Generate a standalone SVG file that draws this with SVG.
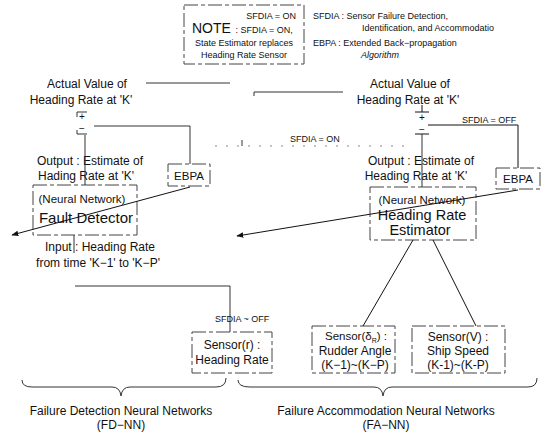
<svg xmlns="http://www.w3.org/2000/svg" width="546" height="438" viewBox="0 0 546 438">
<style>
text{font-family:"Liberation Sans",Arial,sans-serif;fill:#111}
.s9{font-size:9px}
.s12{font-size:12px}
.s11{font-size:11.5px}
.big{font-size:14.5px}
.box{fill:none;stroke:#444;stroke-width:1;stroke-dasharray:14 3 4 3}
.ln{fill:none;stroke:#333;stroke-width:1}
.fd{fill:none;stroke:#888;stroke-width:1;stroke-dasharray:2 9}
.sol{fill:none;stroke:#111;stroke-width:1}
</style>
<defs>
<marker id="ah" viewBox="0 0 10 10" refX="9" refY="5" markerWidth="7" markerHeight="7" orient="auto"><path d="M0,1 L10,5 L0,9 Z" fill="#111"/></marker>
</defs>
<rect width="546" height="438" fill="#fff"/>

<g id="note">
<rect class="box" x="184" y="5" width="120" height="59"/>
<text class="s9" x="296" y="19" text-anchor="end">SFDIA = ON</text>
<text x="192" y="33"><tspan style="font-size:14px">NOTE</tspan><tspan class="s9" dx="2"> : SFDIA = ON,</tspan></text>
<text class="s9" x="244" y="46" text-anchor="middle">State Estimator replaces</text>
<text class="s9" x="244" y="58" text-anchor="middle">Heading Rate Sensor</text>
</g>

<g id="legend">
<text class="s9" x="313" y="19">SFDIA : Sensor Failure Detection,</text>
<text class="s9" x="362" y="31">Identification, and Accommodatio</text>
<text class="s9" x="313" y="46">EBPA : Extended Back−propagation</text>
<text class="s9" x="361" y="58" font-style="italic">Algorithm</text>
</g>

<g id="actual-left">
<text class="s12" x="87" y="88" text-anchor="middle">Actual Value of</text>
<text class="s12" x="81" y="104" text-anchor="middle">Heading Rate at 'K'</text>
</g>
<g id="actual-right">
<text class="s12" x="410" y="88" text-anchor="middle">Actual Value of</text>
<text class="s12" x="408" y="104" text-anchor="middle">Heading Rate at 'K'</text>
</g>

<g id="sum-left">
<path class="ln" stroke="#666" d="M77,117 V112 H87 M77,130 V134 H87"/>
<text style="font-size:10px" x="82" y="120" text-anchor="middle">+</text>
<text style="font-size:10px" x="82" y="132" text-anchor="middle">−</text>
</g>
<g id="sum-right">
<path class="sol" d="M415,112 H429 M422,105 V112 M415,134 H429"/>
<text style="font-size:10px" x="422" y="121" text-anchor="middle">+</text>
<text style="font-size:10px" x="422" y="133" text-anchor="middle">−</text>
</g>

<g id="out-left">
<text class="s12" x="90" y="165" text-anchor="middle">Output : Estimate of</text>
<text class="s12" x="86" y="180" text-anchor="middle">Hading Rate at 'K'</text>
</g>
<g id="out-right">
<text class="s12" x="421" y="165" text-anchor="middle">Output : Estimate of</text>
<text class="s12" x="416" y="180" text-anchor="middle">Heading Rate at 'K'</text>
</g>

<g id="ebpa-left">
<rect class="box" x="168" y="164" width="42" height="22"/>
<text class="s11" x="189" y="180" text-anchor="middle">EBPA</text>
</g>
<g id="ebpa-right">
<rect class="box" x="496" y="168" width="44" height="21"/>
<text class="s11" x="518" y="183" text-anchor="middle">EBPA</text>
</g>

<g id="fault-detector">
<rect class="box" x="33" y="185" width="104" height="50"/>
<text class="s11" x="82" y="203" text-anchor="middle">(Neural Network)</text>
<text x="86" y="223" text-anchor="middle" style="font-size:15px">Fault Detector</text>
</g>
<g id="estimator">
<rect class="box" x="370" y="187" width="106" height="53"/>
<text class="s11" x="422" y="204" text-anchor="middle">(Neural Network)</text>
<text class="big" x="422" y="220" text-anchor="middle">Heading Rate</text>
<text class="big" x="420" y="235" text-anchor="middle">Estimator</text>
</g>

<g id="input">
<text class="s12" x="100" y="251" text-anchor="middle">Input : Heading Rate</text>
<text class="s12" x="98" y="267" text-anchor="middle">from time 'K−1' to 'K−P'</text>
</g>

<g id="sensor-r">
<rect class="box" x="192" y="332" width="80" height="41"/>
<text class="s12" x="232" y="349" text-anchor="middle">Sensor(r) :</text>
<text class="s12" x="232" y="364" text-anchor="middle">Heading Rate</text>
</g>
<g id="sensor-rudder">
<rect class="box" x="312" y="326" width="83" height="47"/>
<text style="font-size:11.5px" x="356" y="340" text-anchor="middle">Sensor(δ<tspan font-size="7" dy="3">R</tspan><tspan dy="-3">) :</tspan></text>
<text class="s12" x="355" y="355" text-anchor="middle">Rudder Angle</text>
<text class="s12" x="355" y="369" text-anchor="middle">(K−1)~(K−P)</text>
</g>
<g id="sensor-speed">
<rect class="box" x="412" y="326" width="93" height="47"/>
<text class="s12" x="458" y="341" text-anchor="middle">Sensor(V) :</text>
<text class="s12" x="458" y="355" text-anchor="middle">Ship Speed</text>
<text class="s12" x="458" y="369" text-anchor="middle">(K-1)~(K-P)</text>
</g>

<g id="groups">
<path class="ln" d="M22,380 Q22,387 32,387 L112,387 Q120,387 121,396 Q122,387 130,387 L216,387 Q226,387 226,378"/>
<text class="s12" x="121" y="415" text-anchor="middle">Failure Detection Neural Networks</text>
<text class="s12" x="121" y="429" text-anchor="middle">(FD−NN)</text>
<path class="ln" d="M238,380 Q238,387 250,387 L374,387 Q382,387 383,396 Q384,387 392,387 L528,387 Q537,387 537,378"/>
<text class="s12" x="386" y="415" text-anchor="middle">Failure Accommodation Neural Networks</text>
<text class="s12" x="386" y="429" text-anchor="middle">(FA−NN)</text>
</g>

<g id="connectors">
<path class="ln" stroke="#999" d="M146,83 H230"/>
<path class="ln" d="M254,96 V92 H343"/>
<path class="ln" stroke="#666" d="M94,126 H190 V164"/>
<path class="ln" stroke="#666" d="M85,135 V185"/>
<path class="sol" d="M428,125 H518 V168"/>
<text class="s9" x="462" y="123">SFDIA = OFF</text>
<path class="ln" stroke="#666" d="M422,134 V187"/>
<path class="fd" d="M215,146 H410"/>
<path class="ln" stroke="#aaa" d="M242,140 V146"/>
<text class="s9" x="290" y="142">SFDIA = ON</text>
<path class="sol" marker-end="url(#ah)" d="M190,187 L12,235"/>
<path class="sol" marker-end="url(#ah)" d="M518,190 L237,236"/>
<path class="ln" stroke="#777" d="M74,235 V253"/>
<path class="ln" stroke="#555" d="M75,286 H230 V332"/>
<text class="s9" x="215" y="322">SFDIA ~ OFF</text>
<path class="sol" d="M413,240 L363,326 M433,240 L476,326"/>
</g>
</svg>
